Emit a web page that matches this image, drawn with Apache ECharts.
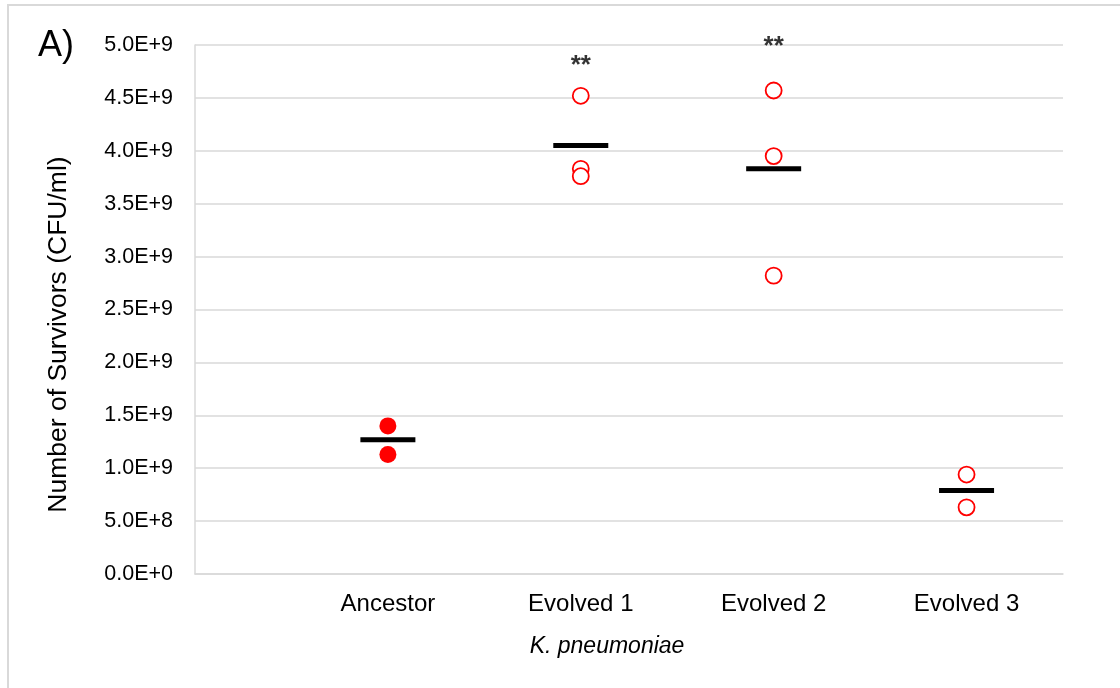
<!DOCTYPE html>
<html>
<head>
<meta charset="utf-8">
<script src="https://cdn.jsdelivr.net/npm/echarts@6/dist/echarts.min.js"></script>
<style>
  html, body { margin: 0; padding: 0; background: #ffffff; }
  #chart { width: 1120px; height: 688px; }
</style>
</head>
<body>
<div id="chart"></div>
<script>
// Strain groups on the x axis (placed at x = 1..4)
const categories = ['Ancestor', 'Evolved 1', 'Evolved 2', 'Evolved 3'];

// Individual replicate counts (CFU/ml)
const ancestorValues = [1.40e9, 1.13e9];
const evolved1Values = [4.52e9, 3.83e9, 3.76e9];
const evolved2Values = [4.57e9, 3.95e9, 2.82e9];
const evolved3Values = [0.94e9, 0.63e9];

// Group means (horizontal bars)
const meanValues = [1.27e9, 4.05e9, 3.83e9, 0.79e9];

// Significance marks: group index and height of the "**" label
const sigGroups = [2, 3];
const sigHeights = [4.80e9, 4.98e9];

const yTicks = { min: 0, max: 5e9, interval: 5e8 };

const font = '"Liberation Sans", Arial, sans-serif';
const gridGray = '#d9d9d9';

function points(groupIndex, values) {
  return values.map(v => [groupIndex, v]);
}

const chart = echarts.init(document.getElementById('chart'));

chart.setOption({
  backgroundColor: '#ffffff',
  animation: false,
  graphic: [
    {
      type: 'rect',
      shape: { x: 8, y: 5, width: 1130, height: 700 },
      style: { fill: 'none', stroke: gridGray, lineWidth: 2 },
      silent: true
    },
    {
      type: 'text',
      left: 38,
      top: 28,
      style: { text: 'A)', font: '36px ' + font, fill: '#000000' }
    }
  ],
  grid: { left: 195, right: 57, top: 45, bottom: 114 },
  xAxis: {
    type: 'value',
    min: 0,
    max: 4.5,
    interval: 1,
    name: 'K. pneumoniae',
    nameLocation: 'middle',
    nameGap: 61,
    nameTextStyle: {
      fontFamily: font, fontSize: 23, fontStyle: 'italic', color: '#000000',
      padding: [0, 44, 0, 0]
    },
    axisLine: { show: true, lineStyle: { color: gridGray, width: 1.5 } },
    axisTick: { show: false },
    splitLine: { show: false },
    axisLabel: {
      showMaxLabel: false,
      margin: 18,
      fontFamily: font,
      fontSize: 24,
      color: '#000000',
      formatter: v => (Number.isInteger(v) && v >= 1 && v <= categories.length) ? categories[v - 1] : ''
    }
  },
  yAxis: {
    type: 'value',
    min: yTicks.min,
    max: yTicks.max,
    interval: yTicks.interval,
    name: 'Number of Survivors (CFU/ml)',
    nameLocation: 'middle',
    nameGap: 123,
    nameTextStyle: {
      fontFamily: font, fontSize: 26.5, color: '#000000',
      padding: [0, 50, 0, 0]
    },
    axisLine: { show: true, lineStyle: { color: gridGray, width: 1.5 } },
    axisTick: { show: false },
    splitLine: { show: true, lineStyle: { color: gridGray, width: 1.5 } },
    axisLabel: {
      margin: 22,
      fontFamily: font,
      fontSize: 21.5,
      color: '#000000',
      formatter: v => v.toExponential(1).toUpperCase()
    }
  },
  series: [
    {
      name: 'Ancestor',
      type: 'scatter',
      symbol: 'circle',
      symbolSize: 17,
      itemStyle: { color: '#ff0000', opacity: 1 },
      data: points(1, ancestorValues),
      z: 3
    },
    {
      name: 'Evolved',
      type: 'scatter',
      symbol: 'circle',
      symbolSize: 16,
      itemStyle: { color: '#ffffff', borderColor: '#ff0000', borderWidth: 1.8, opacity: 1 },
      data: [
        ...points(2, evolved1Values),
        ...points(3, evolved2Values),
        ...points(4, evolved3Values)
      ],
      z: 3
    },
    {
      name: 'Mean',
      type: 'scatter',
      symbol: 'rect',
      symbolSize: [55, 5],
      itemStyle: { color: '#000000', opacity: 1 },
      data: meanValues.map((v, i) => [i + 1, v]),
      z: 4
    },
    {
      name: 'Significance',
      type: 'scatter',
      symbol: 'circle',
      symbolSize: 1,
      clip: false,
      itemStyle: { color: 'rgba(0,0,0,0)' },
      label: {
        show: true,
        position: 'inside',
        formatter: '**',
        fontFamily: font,
        fontSize: 26,
        fontWeight: 'bold',
        color: '#000000'
      },
      data: sigGroups.map((g, i) => [g, sigHeights[i]]),
      z: 5
    }
  ]
});
</script>
</body>
</html>
